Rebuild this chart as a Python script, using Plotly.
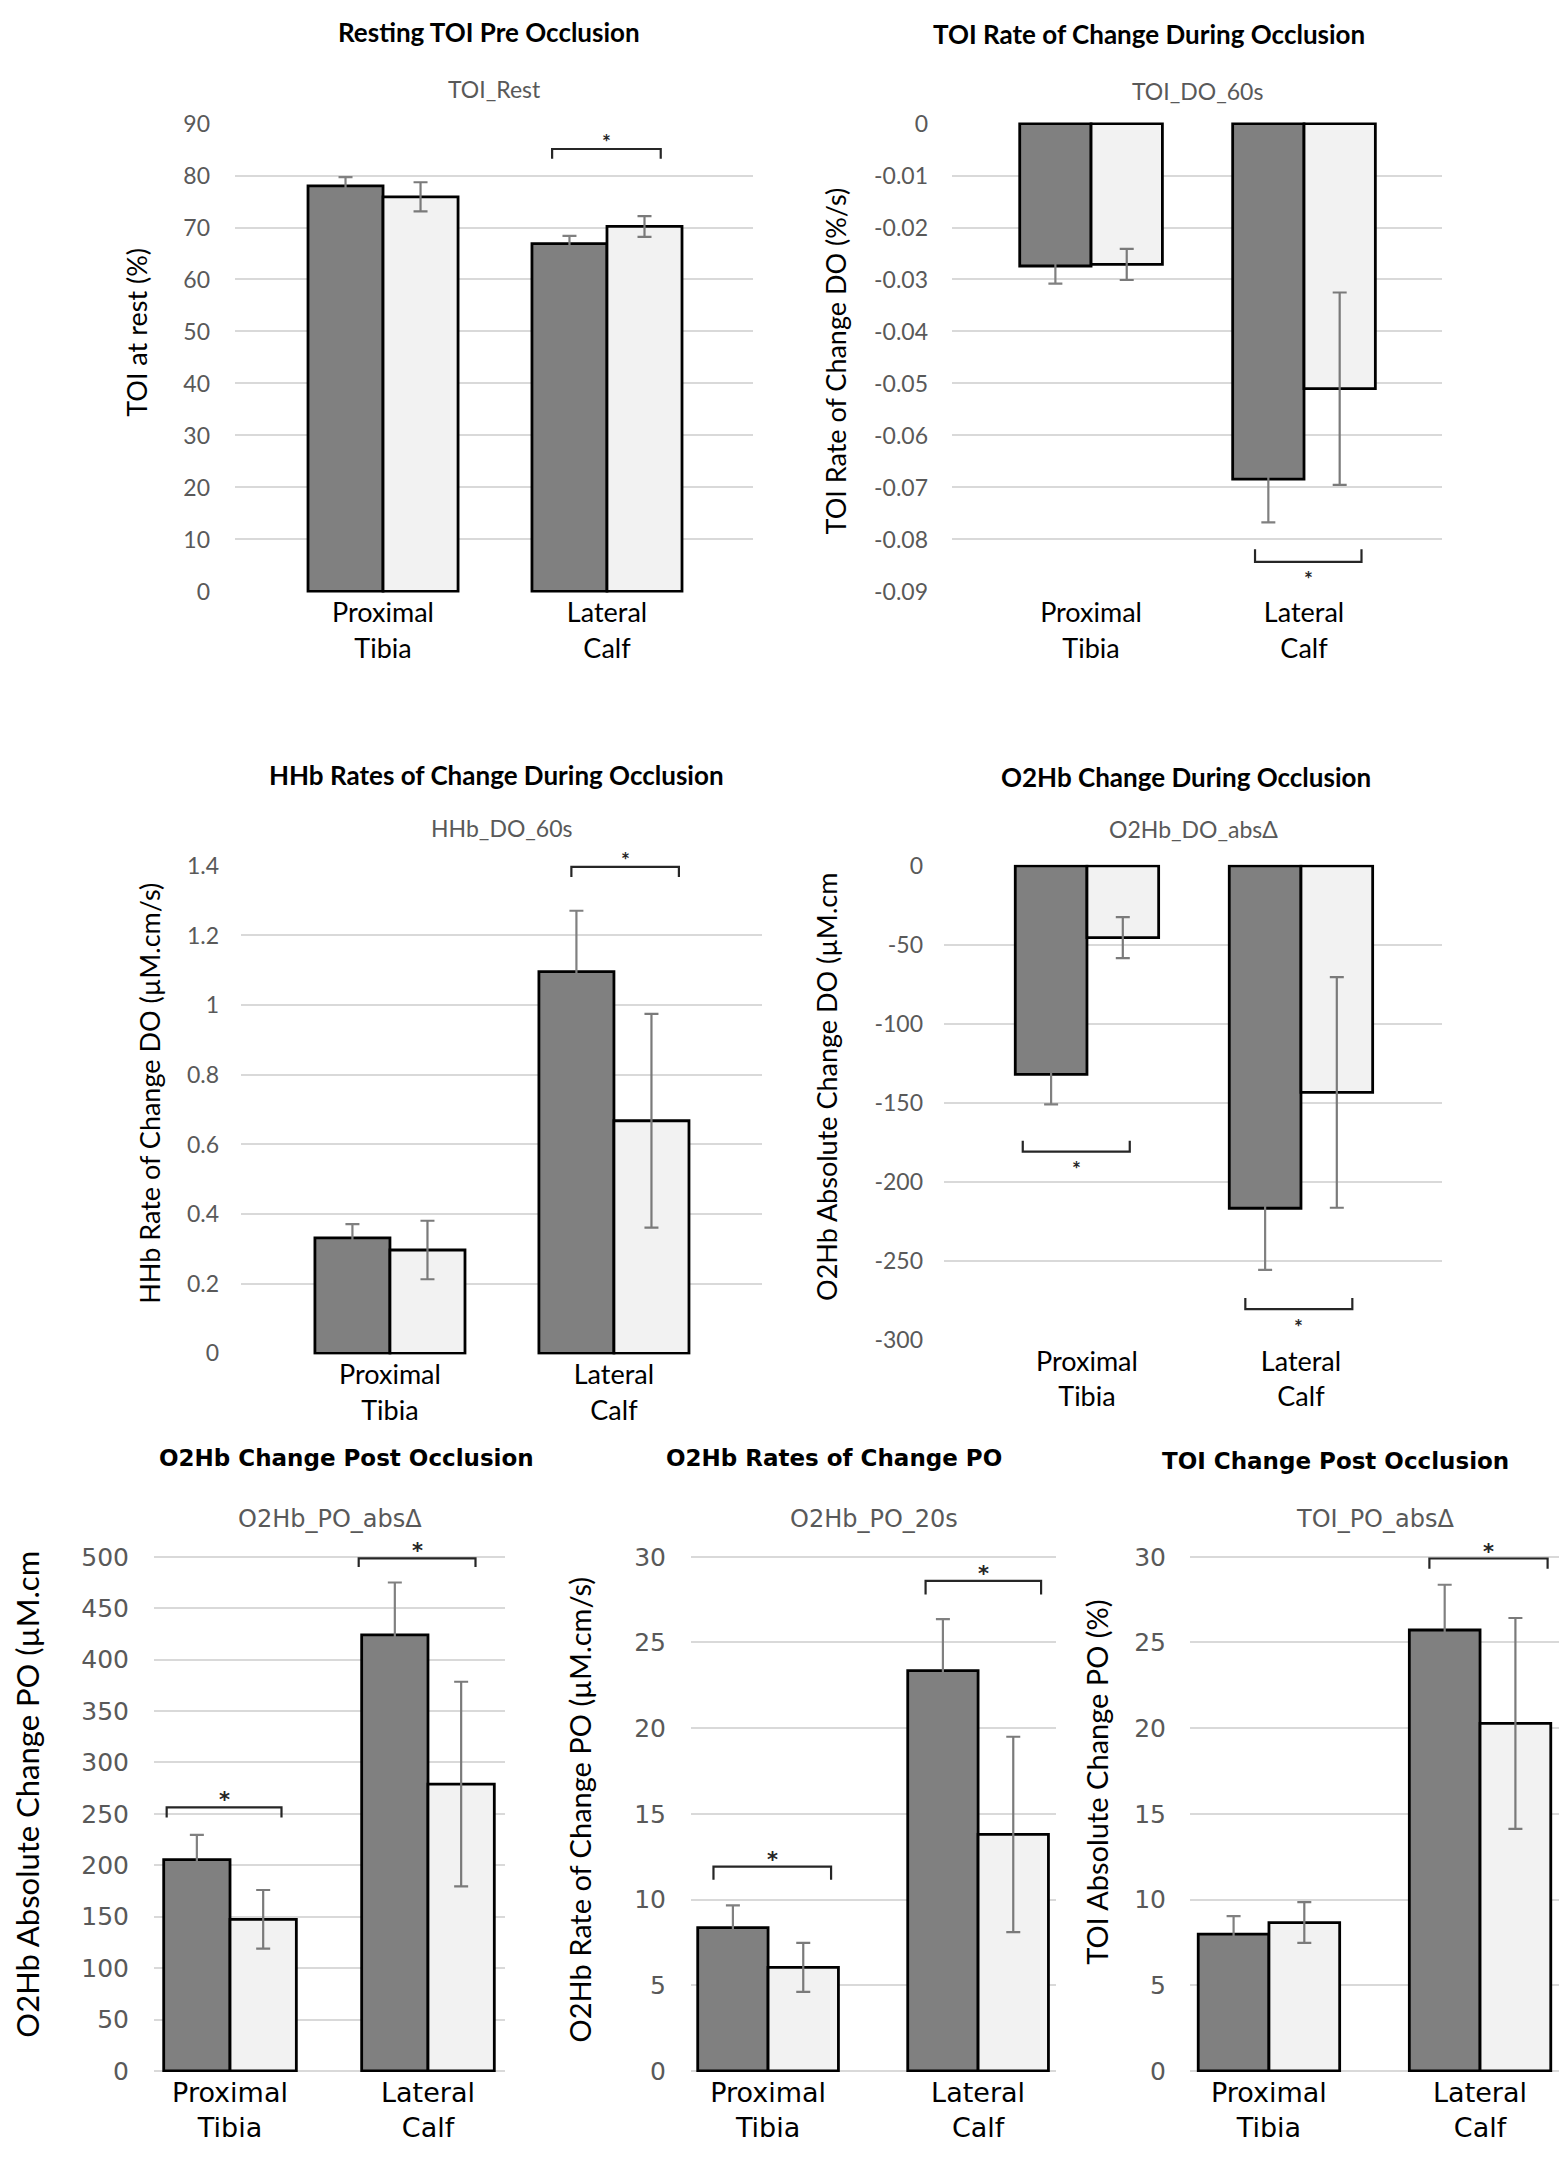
import plotly.graph_objects as go

W, H = 1559, 2162

# ---------------- data ----------------
categories = ["Proximal<br>Tibia", "Lateral<br>Calf"]

# Resting TOI Pre Occlusion (TOI_Rest)
toi_rest_dark = [78.0, 66.9]
toi_rest_dark_err = [1.7, 1.5]
toi_rest_light = [75.9, 70.2]
toi_rest_light_err = [2.8, 2.0]

# TOI Rate of Change During Occlusion (TOI_DO_60s)
toi_do_dark = [-0.0274, -0.0684]
toi_do_dark_err = [0.0034, 0.0083]
toi_do_light = [-0.0271, -0.0510]
toi_do_light_err = [0.0030, 0.0185]

# HHb Rates of Change During Occlusion (HHb_DO_60s)
hhb_do_dark = [0.332, 1.096]
hhb_do_dark_err = [0.039, 0.175]
hhb_do_light = [0.297, 0.668]
hhb_do_light_err = [0.084, 0.307]

# O2Hb Change During Occlusion (O2Hb_DO_absΔ)
o2hb_do_dark = [-132.0, -216.8]
o2hb_do_dark_err = [19.0, 39.0]
o2hb_do_light = [-45.5, -143.5]
o2hb_do_light_err = [13.0, 73.0]

# O2Hb Change Post Occlusion (O2Hb_PO_absΔ)
o2hb_po_dark = [205.6, 424.0]
o2hb_po_dark_err = [24.0, 51.0]
o2hb_po_light = [147.5, 279.0]
o2hb_po_light_err = [28.5, 99.5]

# O2Hb Rates of Change PO (O2Hb_PO_20s)
o2hb_po20_dark = [8.36, 23.36]
o2hb_po20_dark_err = [1.30, 3.00]
o2hb_po20_light = [6.04, 13.80]
o2hb_po20_light_err = [1.43, 5.70]

# TOI Change Post Occlusion (TOI_PO_absΔ)
toi_po_dark = [7.98, 25.73]
toi_po_dark_err = [1.06, 2.64]
toi_po_light = [8.66, 20.28]
toi_po_light_err = [1.19, 6.15]

# significance brackets: (category index, left offset, right offset, line value, leg end value)
# legs pointing down -> star above; legs pointing up -> star below
sig_toi_rest = [(1, -0.245, 0.24, 85.1, 83.2)]
sig_toi_do = [(1, -0.23, 0.27, -0.0843, -0.0819)]
sig_hhb_do = [(1, -0.19, 0.29, 1.397, 1.368)]
sig_o2hb_do = [(0, -0.30, 0.20, -181.0, -174.0), (1, -0.26, 0.24, -280.7, -273.6)]
sig_o2hb_po = [(0, -0.32, 0.26, 256.4, 246.4), (1, -0.35, 0.24, 498.5, 490.0)]
sig_o2hb_po20 = [(0, -0.26, 0.30, 11.92, 11.16), (1, -0.25, 0.30, 28.6, 27.8)]
sig_toi_po = [(1, -0.24, 0.32, 29.9, 29.3)]

# ---------------- chart specs ----------------
TOPFONT = "Lato"
BOTFONT = "DejaVu Sans"

charts = [
    dict(title="Resting TOI Pre Occlusion", sub="TOI_Rest", ytitle="TOI at rest (%)",
         dark=toi_rest_dark, dark_err=toi_rest_dark_err, light=toi_rest_light, light_err=toi_rest_light_err,
         sig=sig_toi_rest, box=(235, 110, 753, 586), yr=(0, 90), step=10, xr=(-0.661, 1.652),
         tpos=(489, 18), subpos=76, ypos=(137, 323), font=TOPFONT, yfont=TOPFONT, ysize=27,
         tsize=26, ssize=23, ksize=23, csize=27, standoff=24),
    dict(title="TOI Rate of Change During Occlusion", sub="TOI_DO_60s", ytitle="TOI Rate of Change DO (%/s)",
         dark=toi_do_dark, dark_err=toi_do_dark_err, light=toi_do_light, light_err=toi_do_light_err,
         sig=sig_toi_do, box=(952, 110, 1442, 586), yr=(-0.09, 0), step=0.01, xr=(-0.653, 1.648),
         tpos=(1149, 20), subpos=78, ypos=(835, 352), font=TOPFONT, yfont=TOPFONT, ysize=27,
         tsize=26, ssize=23, ksize=23, csize=27, standoff=23),
    dict(title="HHb Rates of Change During Occlusion", sub="HHb_DO_60s", ytitle="HHb Rate of Change DO (µM.cm/s)",
         dark=hhb_do_dark, dark_err=hhb_do_dark_err, light=hhb_do_light, light_err=hhb_do_light_err,
         sig=sig_hhb_do, box=(241, 862, 762, 1358), yr=(0, 1.4), step=0.2, xr=(-0.665, 1.661),
         tpos=(497, 771), subpos=825, ypos=(150, 1094), font=TOPFONT, yfont=TOPFONT, ysize=27,
         tsize=26, ssize=23, ksize=23, csize=27, standoff=21),
    dict(title="O2Hb Change During Occlusion", sub="O2Hb_DO_absΔ", ytitle="O2Hb Absolute Change DO (µM.cm",
         dark=o2hb_do_dark, dark_err=o2hb_do_dark_err, light=o2hb_do_light, light_err=o2hb_do_light_err,
         sig=sig_o2hb_do, box=(944, 862, 1442, 1344), yr=(-300, 0), step=50, xr=(-0.668, 1.659),
         tpos=(1186, 773), subpos=826, ypos=(827, 1087), font=TOPFONT, yfont=TOPFONT, ysize=27,
         tsize=26, ssize=23, ksize=23, csize=27, standoff=20),
    dict(title="O2Hb Change Post Occlusion", sub="O2Hb_PO_absΔ", ytitle="O2Hb Absolute Change PO (µM.cm",
         dark=o2hb_po_dark, dark_err=o2hb_po_dark_err, light=o2hb_po_light, light_err=o2hb_po_light_err,
         sig=sig_o2hb_po, box=(154, 1562, 505, 2085), yr=(0, 500), step=50, xr=(-0.384, 1.389),
         tpos=(346, 1463), subpos=1525, ypos=(27, 1804), font=BOTFONT, yfont=TOPFONT, ysize=31,
         tsize=23, ssize=24, ksize=25, csize=27, standoff=24),
    dict(title="O2Hb Rates of Change PO", sub="O2Hb_PO_20s", ytitle="O2Hb Rate of Change PO (µM.cm/s)",
         dark=o2hb_po20_dark, dark_err=o2hb_po20_dark_err, light=o2hb_po20_light, light_err=o2hb_po20_light_err,
         sig=sig_o2hb_po20, box=(691, 1562, 1056, 2085), yr=(0, 30), step=5, xr=(-0.367, 1.371),
         tpos=(834, 1463), subpos=1525, ypos=(579, 1819), font=BOTFONT, yfont=TOPFONT, ysize=29,
         tsize=23, ssize=24, ksize=25, csize=27, standoff=24),
    dict(title="TOI Change Post Occlusion", sub="TOI_PO_absΔ", ytitle="TOI Absolute Change PO (%)",
         dark=toi_po_dark, dark_err=toi_po_dark_err, light=toi_po_light, light_err=toi_po_light_err,
         sig=sig_toi_po, box=(1190, 1562, 1559, 2085), yr=(0, 30), step=5, xr=(-0.374, 1.374),
         tpos=(1335, 1466), subpos=1525, ypos=(1097, 1792), font=BOTFONT, yfont=TOPFONT, ysize=29,
         tsize=23, ssize=24, ksize=25, csize=27, standoff=23),
]

DARK = "#808080"
LIGHT = "#f2f2f2"
ERR = "#7a7a7a"
GRID = "#d9d9d9"
TICK = "#595959"


def px(x):
    return x / W


def py(y):
    return 1 - y / H


fig = go.Figure()
layout = dict(width=W, height=H, margin=dict(l=0, r=0, t=0, b=0),
              paper_bgcolor="white", plot_bgcolor="white", showlegend=False,
              barmode="group", bargap=0.33, bargroupgap=0.0)
annotations = []
shapes = []

for i, c in enumerate(charts, start=1):
    sfx = "" if i == 1 else str(i)
    xref, yref = "x" + sfx, "y" + sfx
    x0, y0, x1, y1 = c["box"]
    lo, hi = c["yr"]
    n = int(round((hi - lo) / c["step"]))
    tickvals = [round(lo + k * c["step"], 6) for k in range(n + 1)]
    ticktext = [("%g" % v) if abs(v) > 1e-12 else "0" for v in tickvals]
    eps = (hi - lo) * 0.002

    for vals, errs, col, ecol in ((c["dark"], c["dark_err"], DARK, DARK),
                                  (c["light"], c["light_err"], LIGHT, ERR)):
        fig.add_trace(go.Bar(
            x=[0, 1], y=vals, xaxis=xref, yaxis=yref,
            marker=dict(color=col, line=dict(color="black", width=2.8)),
            error_y=dict(type="data", array=errs, visible=True, color=ecol, thickness=2.2, width=7),
            hoverinfo="skip"))

    layout["xaxis" + sfx] = dict(
        domain=[px(x0), px(x1)], anchor=yref, range=list(c["xr"]),
        tickvals=[0, 1], ticktext=categories, showgrid=False, zeroline=False,
        showline=False, ticks="", ticklabelstandoff=2, fixedrange=True,
        tickfont=dict(family=c["font"], size=c["csize"], color="black"))
    layout["yaxis" + sfx] = dict(
        domain=[py(y1), py(y0)], anchor=xref, range=[lo - eps, hi + eps],
        tickvals=tickvals, ticktext=ticktext, showgrid=True, gridcolor=GRID, gridwidth=2,
        zeroline=False, showline=False, ticks="", ticklabelstandoff=c["standoff"], fixedrange=True,
        tickfont=dict(family=c["font"], size=c["ksize"], color=TICK))

    # titles
    annotations.append(dict(text="<b>%s</b>" % c["title"], xref="paper", yref="paper",
                            x=px(c["tpos"][0]), y=py(c["tpos"][1]), xanchor="center", yanchor="middle",
                            showarrow=False, font=dict(family=c["font"], size=c["tsize"], color="black")))
    annotations.append(dict(text=c["sub"], xref="paper", yref="paper",
                            x=px((x0 + x1) / 2), y=py(c["subpos"]), xanchor="center", yanchor="middle",
                            showarrow=False, font=dict(family=c["font"], size=c["ssize"], color=TICK)))
    annotations.append(dict(text=c["ytitle"], xref="paper", yref="paper", textangle=-90,
                            x=px(c["ypos"][0]), y=py(c["ypos"][1]), xanchor="center", yanchor="middle",
                            showarrow=False, font=dict(family=c["yfont"], size=c["ysize"], color="black")))

    # significance brackets
    for cat, lo_off, hi_off, yline, yleg in c["sig"]:
        xa, xb = cat + lo_off, cat + hi_off
        shapes.append(dict(type="path", xref=xref, yref=yref,
                           path="M %f,%f L %f,%f L %f,%f L %f,%f" % (xa, yleg, xa, yline, xb, yline, xb, yleg),
                           line=dict(color="#262626", width=2.2)))
        above = yleg < yline
        annotations.append(dict(text="<b>*</b>", xref=xref, yref=yref, x=(xa + xb) / 2, y=yline,
                                xanchor="center", yanchor="middle", showarrow=False,
                                yshift=7 if above else -17,
                                font=dict(family=c["font"], size=21, color="#262626")))

layout["annotations"] = annotations
layout["shapes"] = shapes
fig.update_layout(**layout)

fig.write_html("out.html", config={"displayModeBar": False, "staticPlot": True},
               post_script="document.body.style.margin='0';document.body.style.overflow='hidden';")
